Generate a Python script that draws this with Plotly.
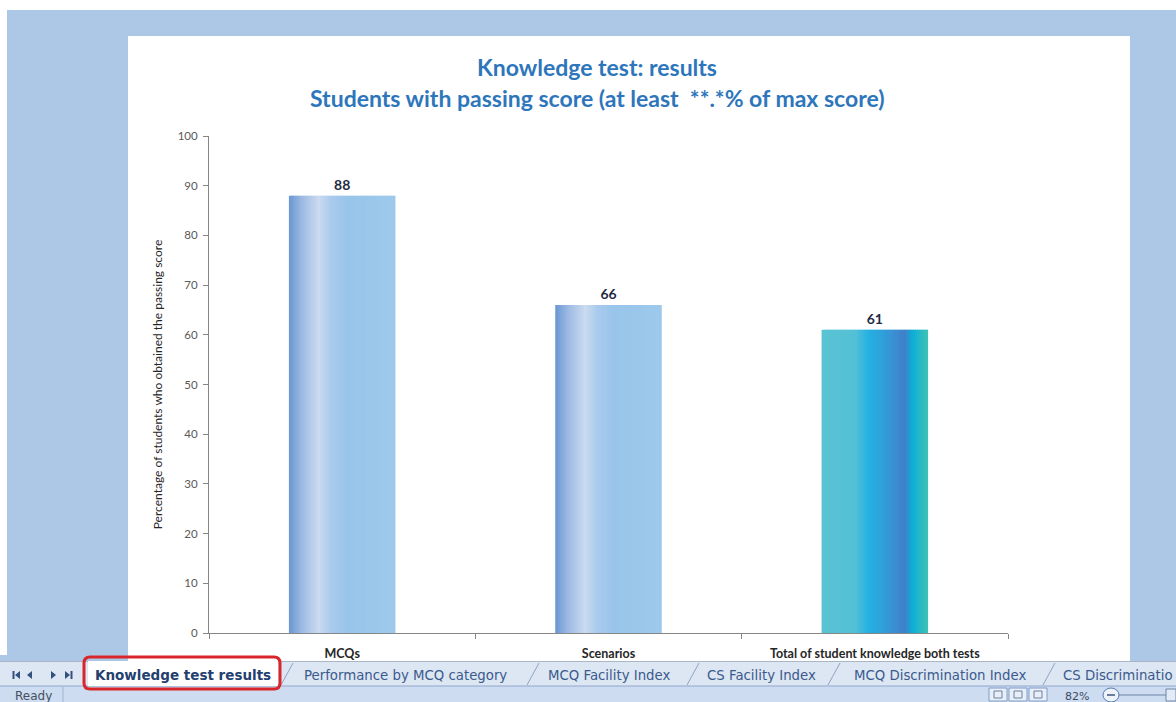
import plotly.graph_objects as go

# ---- chart data -------------------------------------------------------
categories = ["MCQs", "Scenarios", "Total of student knowledge both tests"]
passing_pct = [88, 66, 61]
y_tick_values = [0, 10, 20, 30, 40, 50, 60, 70, 80, 90, 100]

title_line1 = "Knowledge test: results"
title_line2 = "Students with passing score (at least  **.*% of max score)"
y_axis_title = "Percentage of students who obtained the passing score"

# ---- workbook chrome text ----------------------------------------------
active_sheet = "Knowledge test results"
other_sheets = ["Performance by MCQ category", "MCQ Facility Index",
                "CS Facility Index", "MCQ Discrimination Index",
                "CS Discriminatio"]
status_text = "Ready"
zoom_text = "82%"

# ---- canvas geometry (pixels) ------------------------------------------
W, H = 1176, 702
ML, MR, MT, MB = 209, 168, 136, 69
PW, PH = W - ML - MR, H - MT - MB


def X(px):
    return (px - ML) / PW


def Y(py):
    return (H - MB - py) / PH


# gradient stops across each bar (fraction of bar width, colour)
BLUE_STOPS = [(0.00, "#6a96d3"), (0.12, "#9cbae3"), (0.28, "#cbdaef"),
              (0.40, "#a9caed"), (0.55, "#99c5eb"), (1.00, "#9dc9ec")]
TEAL_STOPS = [(0.00, "#5bc3d3"), (0.32, "#52c0d6"), (0.44, "#24b1e2"),
              (0.56, "#2ea2da"), (0.68, "#3a8fd2"), (0.78, "#3f80ca"),
              (0.85, "#0eadd6"), (0.92, "#25b8c8"), (1.00, "#3ec3b2")]
bar_stops = [BLUE_STOPS, BLUE_STOPS, TEAL_STOPS]


def hex_rgb(h):
    h = h.lstrip("#")
    return tuple(int(h[i:i + 2], 16) for i in (0, 2, 4))


def gradient(stops, t):
    for (t0, c0), (t1, c1) in zip(stops, stops[1:]):
        if t <= t1:
            f = (t - t0) / (t1 - t0) if t1 > t0 else 0
            a, b = hex_rgb(c0), hex_rgb(c1)
            return "rgb(%d,%d,%d)" % tuple(round(a[k] + (b[k] - a[k]) * f) for k in range(3))
    return stops[-1][1]


fig = go.Figure()

# each bar is painted as thin vertical strips to get the horizontal shading
BAR_W = 0.4
N = 48
step = BAR_W / N
for i in range(N):
    t = (i + 0.5) / N
    w = step if i == N - 1 else step * 1.6
    fig.add_bar(
        x=categories, y=passing_pct,
        width=w, offset=-BAR_W / 2 + i * step,
        marker=dict(color=[gradient(s, t) for s in bar_stops], line_width=0),
        hoverinfo="skip", showlegend=False,
    )

# value labels above the bars
fig.add_bar(
    x=categories, y=passing_pct, width=BAR_W, offset=-BAR_W / 2,
    marker=dict(color="rgba(0,0,0,0)", line_width=0),
    text=[str(v) for v in passing_pct], textposition="outside",
    textfont=dict(family="Lato", size=14, color="#1f2a44", weight="bold"),
    constraintext="none", cliponaxis=False,
    hoverinfo="skip", showlegend=False,
)

BG_BLUE = "#adc7e7"
shapes = [
    # white chart area
    dict(type="rect", xref="paper", yref="paper", x0=X(128), x1=X(1130),
         y0=Y(661), y1=Y(36), fillcolor="white", line_width=0, layer="below"),
    # white strips along top and left edge of the window
    dict(type="rect", xref="paper", yref="paper", x0=X(0), x1=X(W),
         y0=Y(10), y1=Y(0), fillcolor="white", line_width=0, layer="below"),
    dict(type="rect", xref="paper", yref="paper", x0=X(0), x1=X(7),
         y0=Y(655), y1=Y(0), fillcolor="white", line_width=0, layer="below"),
    # sheet tab strip
    dict(type="rect", xref="paper", yref="paper", x0=X(0), x1=X(W),
         y0=Y(686), y1=Y(661), fillcolor="#dde6f3", line_width=0),
    dict(type="line", xref="paper", yref="paper", x0=X(0), x1=X(W),
         y0=Y(661.5), y1=Y(661.5), line=dict(color="#a9b6c8", width=1)),
    # status bar
    dict(type="rect", xref="paper", yref="paper", x0=X(0), x1=X(W),
         y0=Y(H), y1=Y(686), fillcolor="#cddcf0", line_width=0),
    dict(type="line", xref="paper", yref="paper", x0=X(0), x1=X(W),
         y0=Y(686), y1=Y(686), line=dict(color="#8fa7cd", width=1)),
    dict(type="line", xref="paper", yref="paper", x0=X(63), x1=X(63),
         y0=Y(702), y1=Y(687), line=dict(color="#9fb4d4", width=1)),
    # active tab
    dict(type="rect", xref="paper", yref="paper", x0=X(88), x1=X(278),
         y0=Y(686), y1=Y(661), fillcolor="white", line_width=0),
]

# slanted separators between sheet tabs
for sx in [281, 527, 687, 828, 1043]:
    shapes.append(dict(type="line", xref="paper", yref="paper",
                       x0=X(sx), x1=X(sx + 12), y0=Y(685), y1=Y(663),
                       line=dict(color="#8ea4c6", width=1)))

# red highlight around the active tab
r = 6
x0, x1, y0, y1 = 84, 280, 657, 689
path = ("M {a},{b} L {c},{b} Q {d},{b} {d},{e} L {d},{f} Q {d},{g} {c},{g} "
        "L {a},{g} Q {h},{g} {h},{f} L {h},{e} Q {h},{b} {a},{b} Z").format(
    a=X(x0 + r), c=X(x1 - r), d=X(x1), h=X(x0),
    b=Y(y0), e=Y(y0 + r), f=Y(y1 - r), g=Y(y1))
shapes.append(dict(type="path", xref="paper", yref="paper", path=path,
                   line=dict(color="#d8262b", width=3)))

# tab scroll buttons
NAV = "#34507f"


def tri(xa, xb, yc, hh):
    return "M {},{} L {},{} L {},{} Z".format(X(xa), Y(yc), X(xb), Y(yc - hh), X(xb), Y(yc + hh))


for xa, xb in [(15, 20), (27, 32)]:
    shapes.append(dict(type="path", xref="paper", yref="paper", path=tri(xa, xb, 675, 4),
                       fillcolor=NAV, line_width=0))
for xa, xb in [(56, 51), (70, 65)]:
    shapes.append(dict(type="path", xref="paper", yref="paper", path=tri(xa, xb, 675, 4),
                       fillcolor=NAV, line_width=0))
shapes.append(dict(type="rect", xref="paper", yref="paper", x0=X(12.5), x1=X(14.5),
                   y0=Y(679), y1=Y(671), fillcolor=NAV, line_width=0))
shapes.append(dict(type="rect", xref="paper", yref="paper", x0=X(70.5), x1=X(72.5),
                   y0=Y(679), y1=Y(671), fillcolor=NAV, line_width=0))

# status bar view buttons, zoom control
for bx in [989, 1009, 1029]:
    shapes.append(dict(type="rect", xref="paper", yref="paper", x0=X(bx), x1=X(bx + 18),
                       y0=Y(701), y1=Y(688), fillcolor="#e9eff8",
                       line=dict(color="#7f9cc8", width=1)))
    shapes.append(dict(type="rect", xref="paper", yref="paper", x0=X(bx + 5), x1=X(bx + 13),
                       y0=Y(698), y1=Y(691), fillcolor="rgba(0,0,0,0)",
                       line=dict(color="#6a7f9f", width=1)))
shapes.append(dict(type="circle", xref="paper", yref="paper", x0=X(1103), x1=X(1119),
                   y0=Y(702), y1=Y(688), fillcolor="#eef3fa",
                   line=dict(color="#5a7aae", width=1)))
shapes.append(dict(type="line", xref="paper", yref="paper", x0=X(1107), x1=X(1115),
                   y0=Y(695), y1=Y(695), line=dict(color="#3d5680", width=1.5)))
shapes.append(dict(type="line", xref="paper", yref="paper", x0=X(1119), x1=X(1166),
                   y0=Y(695), y1=Y(695), line=dict(color="#6f86a8", width=1)))
shapes.append(dict(type="rect", xref="paper", yref="paper", x0=X(1166), x1=X(1176),
                   y0=Y(701), y1=Y(689), fillcolor="#e3ebf6",
                   line=dict(color="#6f86a8", width=1)))

TITLE_BLUE = "#2e76bb"
TAB_FONT = dict(family="DejaVu Sans", size=13.3, color="#3a5a8c")
annotations = [
    dict(text=title_line1, x=X(597), y=Y(67), xref="paper", yref="paper",
         showarrow=False, xanchor="center", yanchor="middle",
         font=dict(family="Lato", size=23, color=TITLE_BLUE, weight="bold")),
    dict(text=title_line2, x=X(597), y=Y(98), xref="paper", yref="paper",
         showarrow=False, xanchor="center", yanchor="middle",
         font=dict(family="Lato", size=23, color=TITLE_BLUE, weight="bold")),
    dict(text=active_sheet, x=X(183), y=Y(675), xref="paper", yref="paper",
         showarrow=False, xanchor="center", yanchor="middle",
         font=dict(family="DejaVu Sans", size=13.5, color="#23406f", weight="bold")),
    dict(text=status_text, x=X(13), y=Y(696), xref="paper", yref="paper",
         showarrow=False, xanchor="left", yanchor="middle",
         font=dict(family="DejaVu Sans", size=12, color="#454f60")),
    dict(text=zoom_text, x=X(1077), y=Y(696), xref="paper", yref="paper",
         showarrow=False, xanchor="center", yanchor="middle",
         font=dict(family="DejaVu Sans", size=11, color="#3b4a63")),
]

tab_centers = [405, 609, 761, 940, None]
for name, cx in zip(other_sheets, tab_centers):
    if cx is None:
        annotations.append(dict(text=name, x=X(1175), y=Y(675), xref="paper", yref="paper",
                                showarrow=False, xanchor="right", yanchor="middle",
                                font=TAB_FONT))
    else:
        annotations.append(dict(text=name, x=X(cx), y=Y(675), xref="paper", yref="paper",
                                showarrow=False, xanchor="center", yanchor="middle",
                                font=TAB_FONT))

AXIS_GREY = "#868686"
fig.update_layout(
    width=W, height=H,
    margin=dict(l=ML, r=MR, t=MT, b=MB, pad=0),
    paper_bgcolor=BG_BLUE, plot_bgcolor="rgba(0,0,0,0)",
    barmode="overlay", showlegend=False,
    shapes=shapes, annotations=annotations,
    xaxis=dict(
        type="category", range=[-0.5, 2.5], tickson="boundaries",
        ticks="outside", ticklen=5, tickcolor=AXIS_GREY,
        showline=True, linecolor=AXIS_GREY, linewidth=1,
        showgrid=False, zeroline=False, ticklabelstandoff=9,
        tickfont=dict(family="Lato", size=12.5, color="#262626", weight="bold"),
    ),
    yaxis=dict(
        range=[0, 100], tickvals=y_tick_values,
        ticks="outside", ticklen=5, tickcolor=AXIS_GREY,
        showline=True, linecolor=AXIS_GREY, linewidth=1,
        showgrid=False, zeroline=False, ticklabelstandoff=3,
        tickfont=dict(family="Lato", size=11.5, color="#595959"),
        title=dict(text=y_axis_title, standoff=12,
                   font=dict(family="Lato", size=12, color="#262626")),
    ),
)

fig.write_html("out.html", config={"displayModeBar": False})
